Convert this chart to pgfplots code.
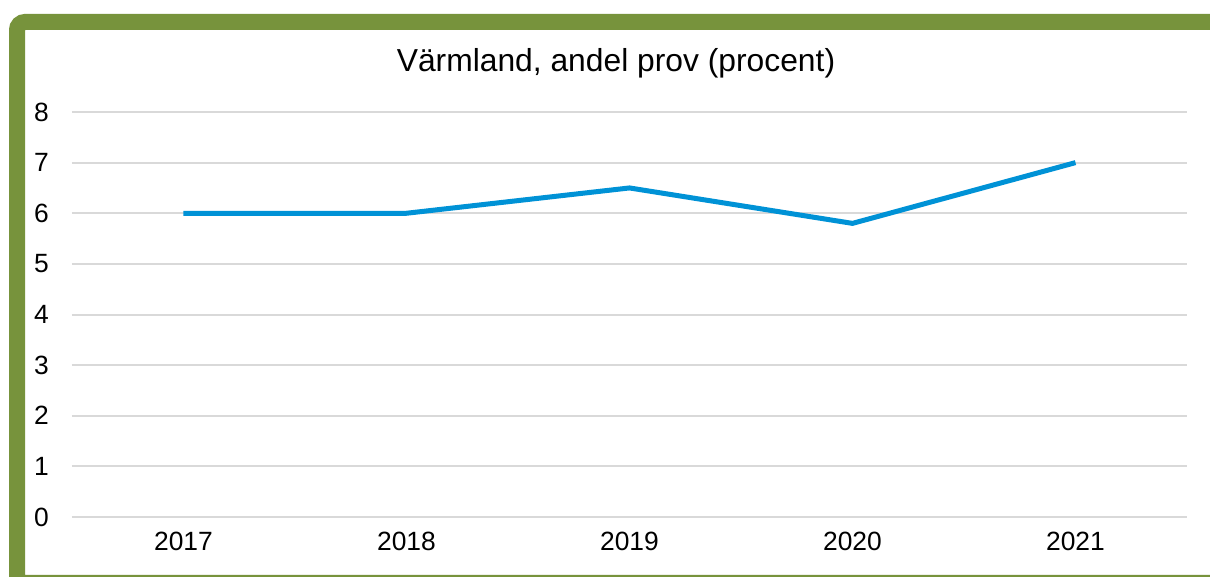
\documentclass[border=0pt]{standalone}
\usepackage{pgfplots}
\pgfplotsset{compat=1.18}
\usepackage{fontspec}
\setmainfont{Liberation Sans}
\definecolor{framegreen}{HTML}{77933C}
\definecolor{lineblue}{HTML}{0092D6}
\definecolor{gridgray}{HTML}{D9D9D9}
\begin{document}
\begin{tikzpicture}[x=1pt,y=1pt]
\useasboundingbox (0,0) rectangle (605,288.5);
\begin{scope}
\clip (0,0) rectangle (605,288.5);
\draw[framegreen, line width=8pt, rounded corners=4pt] (8.5,-3) rectangle (610,277.5);
\end{scope}
\node[font=\fontsize{15.9}{19}\selectfont, anchor=base] at (308,252.5) {Värmland, andel prov (procent)};
\begin{axis}[
  at={(36pt,30pt)}, anchor=south west,
  scale only axis, width=557.5pt, height=202.5pt,
  xmin=-0.5, xmax=4.5, ymin=0, ymax=8,
  axis line style={draw=none},
  xtick={0,1,2,3,4},
  xticklabels={2017,2018,2019,2020,2021},
  ytick={0,1,...,8},
  xmajorgrids=false, ymajorgrids=true,
  grid style={draw=gridgray, line width=1pt},
  major tick length=0pt,
  tick label style={font=\fontsize{13.2}{16}\selectfont},
  /pgf/number format/assume math mode=true,
  yticklabel style={xshift=-8pt},
  xticklabel style={yshift=-4pt},
  clip=false,
]
\addplot[lineblue, line width=2.5pt, line join=round] coordinates {(0,6) (1,6) (2,6.5) (3,5.8) (4,7)};
\end{axis}
\end{tikzpicture}
\end{document}
